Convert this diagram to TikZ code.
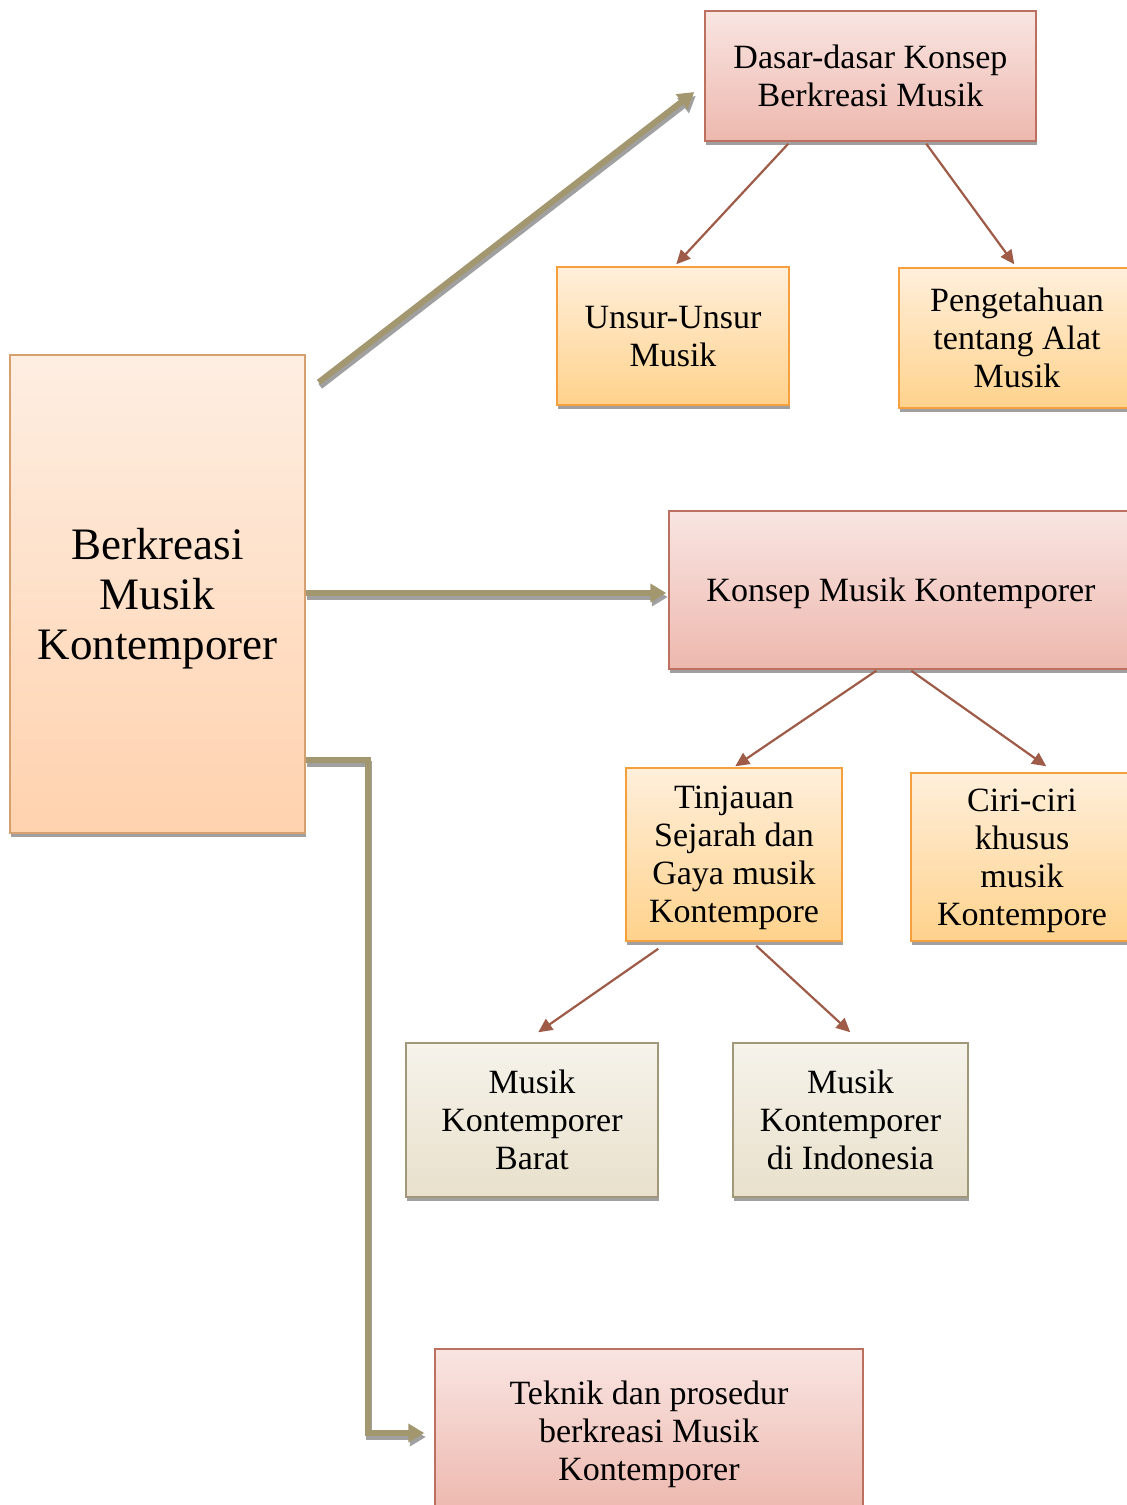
\documentclass[tikz,border=0pt]{standalone}
\usepackage{fontspec}
\setmainfont{Liberation Serif}
\usetikzlibrary{arrows.meta,calc,shadows}
\definecolor{pinktop}{RGB}{249,229,226}
\definecolor{pinkbot}{RGB}{237,184,174}
\definecolor{pinkborder}{RGB}{188,112,96}
\definecolor{orgtop}{RGB}{255,239,219}
\definecolor{orgbot}{RGB}{255,210,140}
\definecolor{orgborder}{RGB}{245,160,60}
\definecolor{maintop}{RGB}{254,238,226}
\definecolor{mainbot}{RGB}{255,210,174}
\definecolor{mainborder}{RGB}{212,160,112}
\definecolor{begtop}{RGB}{246,243,235}
\definecolor{begbot}{RGB}{232,224,203}
\definecolor{begborder}{RGB}{160,152,120}
\definecolor{khaki}{RGB}{163,151,112}
\definecolor{shadowgray}{RGB}{160,160,160}
\definecolor{thinarrow}{RGB}{158,91,72}
\tikzset{
  boxbase/.style={rectangle, inner sep=0pt, align=center, line width=1.5pt,
    font=\fontsize{34}{38}\selectfont, text depth=-1pt,
    drop shadow={shadow xshift=1pt, shadow yshift=-4pt, fill=shadowgray, opacity=1}},
  pinkbox/.style={boxbase, draw=pinkborder, top color=pinktop, bottom color=pinkbot},
  orgbox/.style={boxbase, draw=orgborder, top color=orgtop, bottom color=orgbot},
  mainbox/.style={boxbase, draw=mainborder, top color=maintop, bottom color=mainbot,
    font=\fontsize{45}{50}\selectfont},
  begbox/.style={boxbase, draw=begborder, top color=begtop, bottom color=begbot},
  thinarr/.style={draw=thinarrow, line width=2.2pt, -{Triangle[length=14pt,width=13pt]}},
  thickshadow/.style={draw=shadowgray, line width=6pt, -{Triangle[length=16pt,width=18pt]},
    transform canvas={xshift=1.5pt, yshift=-4pt}},
  thickarr/.style={draw=khaki, line width=6pt, -{Triangle[length=16pt,width=18pt]}}
}
\begin{document}
\begin{tikzpicture}[x=1pt,y=-1pt]
\clip (0,0) rectangle (1127,1505);
\fill[white] (0,0) rectangle (1127,1505);

\node[mainbox, minimum width=295pt, minimum height=478pt, text depth=-5pt] (main) at (157.5,594) {Berkreasi\\Musik\\Kontemporer};
\node[pinkbox, minimum width=331pt, minimum height=130pt] (dasar) at (870.5,76) {Dasar-dasar Konsep\\Berkreasi Musik};
\node[orgbox, minimum width=232pt, minimum height=138pt] (unsur) at (673,336) {Unsur-Unsur\\Musik};
\node[orgbox, minimum width=236pt, minimum height=140pt] (peng) at (1017,338) {Pengetahuan\\tentang Alat\\Musik};
\node[pinkbox, minimum width=464pt, minimum height=158pt] (konsep) at (901,590) {Konsep Musik Kontemporer};
\node[orgbox, minimum width=216pt, minimum height=173pt, text depth=-8pt] (tinj) at (734,854.5) {Tinjauan\\Sejarah dan\\Gaya musik\\Kontempore};
\node[orgbox, minimum width=222pt, minimum height=168pt, text depth=-12pt] (ciri) at (1022,857) {Ciri-ciri\\khusus\\musik\\Kontempore};
\node[begbox, minimum width=252pt, minimum height=154pt] (barat) at (532,1120) {Musik\\Kontemporer\\Barat};
\node[begbox, minimum width=235pt, minimum height=154pt] (indo) at (850.5,1120) {Musik\\Kontemporer\\di Indonesia};
\node[pinkbox, minimum width=428pt, minimum height=164pt] (teknik) at (649,1431) {Teknik dan prosedur\\berkreasi Musik\\Kontemporer};

% thick connectors
\coordinate (a1s) at ($(main.north east)+(13,28)$);
\coordinate (a1e) at ($(dasar.west)+(-10,16)$);
\coordinate (a2s) at ($(main.east)+(0,-1)$);
\coordinate (a2e) at ($(konsep.west)+(-2,3)$);
\coordinate (a3s) at ($(main.east)+(0,166)$);
\coordinate (a3m) at ($(a3s)+(62,0)$);
\coordinate (a3e) at ($(teknik.west)+(-10,2)$);
\draw[thickshadow] (a1s) -- (a1e);
\draw[thickshadow] (a2s) -- (a2e);
\draw[thickshadow] (a3s) -- (a3m) |- (a3e);
\draw[thickarr] (a1s) -- (a1e);
\draw[thickarr] (a2s) -- (a2e);
\draw[thickarr] (a3s) -- (a3m) |- (a3e);

% thin connectors
\draw[thinarr] ($(dasar.south west)+(84,2)$) -- ($(unsur.north west)+(120,-2)$);
\draw[thinarr] ($(dasar.south west)+(222,2)$) -- ($(peng.north west)+(116,-3)$);
\draw[thinarr] ($(konsep.south west)+(208,1)$) -- ($(tinj.north west)+(110,-1)$);
\draw[thinarr] ($(konsep.south west)+(243,1)$) -- ($(ciri.north west)+(136,-6)$);
\draw[thinarr] ($(tinj.south west)+(33,7)$) -- ($(barat.north west)+(133,-10)$);
\draw[thinarr] ($(tinj.south west)+(131,4)$) -- ($(indo.north west)+(118,-10)$);
\end{tikzpicture}
\end{document}
